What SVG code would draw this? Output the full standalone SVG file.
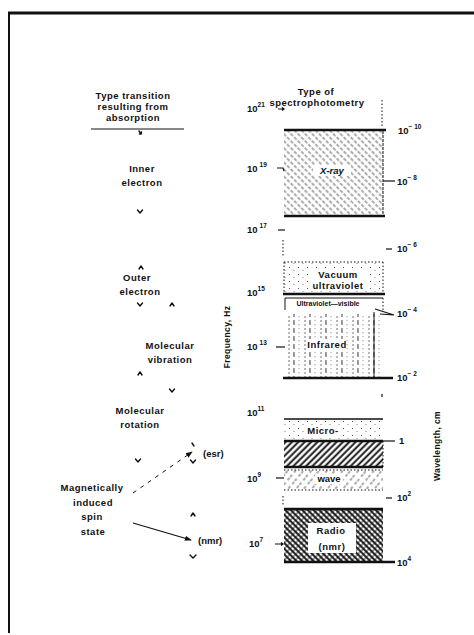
<svg xmlns="http://www.w3.org/2000/svg" width="474" height="635" viewBox="0 0 474 635">
<style>
text{font-family:"Liberation Sans",Arial,sans-serif;font-weight:700;fill:#111;}
.lbl{font-size:9.5px;letter-spacing:0.5px;text-anchor:middle;}
.num{font-size:9.5px;}
.sup{font-size:6.5px;}
.ax{font-size:8.5px;letter-spacing:0.4px;text-anchor:middle;}
.thick{stroke:#111;stroke-width:2.6;fill:none;}
.thin{stroke:#111;stroke-width:1;fill:none;}
.dot{stroke:#111;stroke-width:1;fill:none;stroke-dasharray:1.5 2;}
.tick{stroke:#111;stroke-width:1.2;fill:none;}
.ah{stroke:#111;stroke-width:1.4;fill:none;stroke-linecap:round;stroke-linejoin:round;}
</style>
<defs>
<pattern id="xray" width="5" height="10" patternUnits="userSpaceOnUse" patternTransform="rotate(-45)">
<line x1="1" y1="0" x2="1" y2="10" stroke="#222" stroke-width="0.75" stroke-dasharray="3.5 1.5"/>
</pattern>
<pattern id="stip" width="9" height="7" patternUnits="userSpaceOnUse">
<circle cx="1.5" cy="1.5" r="0.55" fill="#333"/>
<circle cx="6" cy="4.5" r="0.5" fill="#555"/>
</pattern>
<pattern id="ir" width="16" height="8" patternUnits="userSpaceOnUse">
<line x1="1" y1="0" x2="1" y2="8" stroke="#333" stroke-width="0.7" stroke-dasharray="2 2"/>
<line x1="6" y1="0" x2="6" y2="8" stroke="#222" stroke-width="0.9" stroke-dasharray="5 3"/>
<line x1="11" y1="0" x2="11" y2="8" stroke="#555" stroke-width="0.6" stroke-dasharray="1.2 2.8"/>
</pattern>
<pattern id="dense" width="4.5" height="10" patternUnits="userSpaceOnUse" patternTransform="rotate(45)">
<line x1="1.5" y1="0" x2="1.5" y2="10" stroke="#111" stroke-width="1.9"/>
</pattern>
<pattern id="wave" width="6" height="10" patternUnits="userSpaceOnUse" patternTransform="rotate(40)">
<line x1="1" y1="0" x2="1" y2="10" stroke="#333" stroke-width="0.8" stroke-dasharray="3 3"/>
</pattern>
<pattern id="rad1" width="4" height="10" patternUnits="userSpaceOnUse" patternTransform="rotate(-45)">
<line x1="1" y1="0" x2="1" y2="10" stroke="#111" stroke-width="1.8"/>
</pattern>
<pattern id="rad2" width="4" height="10" patternUnits="userSpaceOnUse" patternTransform="rotate(45)">
<line x1="1" y1="0" x2="1" y2="10" stroke="#111" stroke-width="0.9"/>
</pattern>
<marker id="arr" viewBox="0 0 8 8" refX="7" refY="4" markerWidth="7" markerHeight="7" orient="auto" markerUnits="userSpaceOnUse">
<path d="M0,1 L8,4 L0,7 Z" fill="#111"/>
</marker>
</defs>
<rect width="474" height="635" fill="#fff"/>
<g id="frame">
<line x1="8" y1="13" x2="474" y2="13" stroke="#111" stroke-width="3"/>
<line x1="9" y1="12" x2="9" y2="633" stroke="#111" stroke-width="2"/>
</g>

<g id="left-header">
<text class="lbl" x="133" y="99">Type transition</text>
<text class="lbl" x="133" y="110">resulting from</text>
<text class="lbl" x="133" y="121">absorption</text>
<line x1="91" y1="129" x2="184" y2="129" class="thin" stroke-width="1.2"/>
</g>
<g id="inner-electron">
<text class="lbl" x="142" y="172">Inner</text>
<text class="lbl" x="142" y="186">electron</text>
</g>
<g id="outer-electron">
<text class="lbl" x="137" y="281">Outer</text>
<text class="lbl" x="140" y="295">electron</text>
</g>
<g id="molecular-vibration">
<text class="lbl" x="170" y="349">Molecular</text>
<text class="lbl" x="170" y="363">vibration</text>
</g>
<g id="molecular-rotation">
<text class="lbl" x="140" y="414">Molecular</text>
<text class="lbl" x="140" y="428">rotation</text>
</g>
<g id="magnetic-spin">
<text class="lbl" x="92" y="491">Magnetically</text>
<text class="lbl" x="93" y="506">induced</text>
<text class="lbl" x="92" y="520">spin</text>
<text class="lbl" x="93" y="535">state</text>
</g>
<g id="esr-label"><text class="num" x="203" y="457">(esr)</text></g>
<g id="nmr-label"><text class="num" x="198" y="544">(nmr)</text></g>

<g id="connectors">
<path class="ah" d="M139,131 L141,134 M139.5,134 L141,134 L141.5,132"/>
<path class="ah" d="M137.5,210 L140,213 L142.5,210"/>
<path class="ah" d="M139,269 L141,266 L143,269"/>
<path class="ah" d="M137.5,303 L140,306 L142.5,303"/>
<path class="ah" d="M170,306 L172,303 L174,306"/>
<path class="ah" d="M138,375 L140,372 L142,375"/>
<path class="ah" d="M169.5,389 L172,392 L174.5,389"/>
<path class="ah" d="M135.5,459 L138,462 L140.5,459"/>
<path class="ah" d="M192,443 L194,446"/>
<line x1="133" y1="493" x2="192" y2="452" stroke="#111" stroke-width="1" stroke-dasharray="4 5" marker-end="url(#arr)"/>
<path class="ah" d="M190.5,460 L193,463 L195.5,460"/>
<path class="ah" d="M191,516 L193,513 L195,516"/>
<line x1="133" y1="523" x2="191" y2="540" stroke="#111" stroke-width="1.3" marker-end="url(#arr)"/>
<path class="ah" d="M190,555 L193,558 L196,555"/>
</g>

<g id="right-header">
<text class="lbl" x="316" y="95">Type of</text>
<text class="lbl" x="317" y="106">spectrophotometry</text>
</g>

<g id="frequency-axis">
<text class="ax" transform="translate(230,337) rotate(-90)">Frequency, Hz</text>
<text x="247" y="112"><tspan class="num">10</tspan><tspan class="sup" dy="-5">21</tspan></text>
<path class="tick" d="M278,109 L284,109 M282,107.5 L284,109 L282,110.5"/>
<text x="247" y="172"><tspan class="num">10</tspan><tspan class="sup" dy="-5" dx="2">19</tspan></text>
<path class="tick" d="M277,168 L283,168 L284,171"/>
<text x="247" y="233"><tspan class="num">10</tspan><tspan class="sup" dy="-5" dx="2">17</tspan></text>
<line class="tick" x1="278" y1="230" x2="285" y2="230"/>
<line class="dot" x1="283" y1="240" x2="283" y2="257"/>
<text x="247" y="296"><tspan class="num">10</tspan><tspan class="sup" dy="-5">15</tspan></text>
<text x="247" y="350"><tspan class="num">10</tspan><tspan class="sup" dy="-5" dx="2">13</tspan></text>
<line class="tick" x1="276" y1="347" x2="285" y2="347"/>
<text x="247" y="416"><tspan class="num">10</tspan><tspan class="sup" dy="-5">11</tspan></text>
<text x="247" y="482"><tspan class="num">10</tspan><tspan class="sup" dy="-5">9</tspan></text>
<line class="tick" x1="276" y1="478" x2="284" y2="478"/>
<line class="dot" x1="283" y1="496" x2="283" y2="505"/>
<text x="249" y="547"><tspan class="num">10</tspan><tspan class="sup" dy="-5">7</tspan></text>
<path class="tick" d="M275,544 L283,544 M281,542.5 L283,544 L281,545.5"/>
</g>

<g id="wavelength-axis">
<text class="ax" transform="translate(440,446) rotate(-90)">Wavelength, cm</text>
<text x="398" y="134"><tspan class="num">10</tspan><tspan class="sup" dy="-5">− 10</tspan></text>
<line class="tick" x1="383" y1="181" x2="395" y2="181"/>
<text x="397" y="185"><tspan class="num">10</tspan><tspan class="sup" dy="-5">− 8</tspan></text>
<line class="tick" x1="386" y1="249" x2="392" y2="249"/>
<text x="397" y="252"><tspan class="num">10</tspan><tspan class="sup" dy="-5">− 6</tspan></text>
<path class="tick" d="M375,309 L394,315 L380,314"/>
<text x="397" y="317"><tspan class="num">10</tspan><tspan class="sup" dy="-5">− 4</tspan></text>
<text x="397" y="381"><tspan class="num">10</tspan><tspan class="sup" dy="-5">− 2</tspan></text>
<line class="tick" x1="382" y1="394" x2="382" y2="397"/>
<line class="tick" x1="380" y1="441" x2="395" y2="441"/>
<text class="num" x="399" y="444">1</text>
<line class="tick" x1="386" y1="498" x2="392" y2="498"/>
<text x="397" y="501"><tspan class="num">10</tspan><tspan class="sup" dy="-5">2</tspan></text>
<text x="397" y="566"><tspan class="num">10</tspan><tspan class="sup" dy="-5">4</tspan></text>
</g>

<g id="xray">
<line class="dot" x1="382" y1="100" x2="382" y2="128"/>
<rect x="284" y="131" width="99" height="85" fill="url(#xray)"/>
<line x1="383" y1="131" x2="383" y2="216" class="thin" stroke-dasharray="3 1"/>
<line class="thick" x1="284" y1="130" x2="386" y2="130"/>
<line class="thick" x1="284" y1="216" x2="385" y2="216"/>
<rect x="313" y="165" width="38" height="11" fill="#fff"/>
<text class="num" x="332" y="174" text-anchor="middle" font-style="italic" font-size="8.5">X-ray</text>
</g>

<g id="vacuum-uv">
<rect x="284" y="262" width="99" height="31" fill="url(#stip)"/>
<line class="dot" x1="284" y1="262" x2="383" y2="262"/>
<line class="dot" x1="284" y1="262" x2="284" y2="293"/>
<line class="dot" x1="383" y1="262" x2="383" y2="293"/>
<rect x="309" y="268" width="60" height="22" fill="#fff"/>
<text class="lbl" x="338" y="278">Vacuum</text>
<text class="lbl" x="338" y="289" font-size="8.5">ultraviolet</text>
<line class="thick" x1="283" y1="294" x2="385" y2="294"/>
</g>

<g id="uv-visible">
<path class="thin" d="M285,310 L285,298 L383,298"/>
<line class="dot" x1="383" y1="298" x2="383" y2="310"/>
<text x="328" y="306" text-anchor="middle" font-size="7">Ultraviolet—visible</text>
</g>

<g id="infrared">
<rect x="284" y="314" width="99" height="64" fill="url(#ir)"/>
<line class="thin" x1="374" y1="312" x2="374" y2="378"/>
<rect x="308" y="339" width="38" height="12" fill="#fff"/>
<text class="lbl" x="327" y="348">Infrared</text>
<line class="thick" x1="283" y1="378" x2="393" y2="378"/>
</g>

<g id="microwave">
<line x1="284" y1="419" x2="383" y2="419" stroke="#111" stroke-width="1.6"/>
<rect x="284" y="420" width="99" height="20" fill="url(#stip)"/>
<rect x="306" y="425" width="34" height="11" fill="#fff"/>
<text class="lbl" x="323" y="434">Micro-</text>
<rect x="284" y="441" width="99" height="26" fill="url(#dense)"/>
<line class="thick" x1="284" y1="441" x2="383" y2="441"/>
<line class="thick" x1="284" y1="467" x2="383" y2="467"/>
<line class="dot" x1="383" y1="441" x2="383" y2="467"/>
<rect x="284" y="470" width="99" height="19" fill="url(#wave)"/>
<line class="dot" x1="284" y1="470" x2="383" y2="470"/>
<line class="dot" x1="284" y1="490" x2="383" y2="490"/>
<rect x="315" y="474" width="28" height="10" fill="#fff"/>
<text class="num" x="329" y="482" text-anchor="middle" font-size="8">wave</text>
</g>

<g id="radio">
<rect x="284" y="509" width="99" height="53" fill="url(#rad1)"/>
<rect x="284" y="509" width="99" height="53" fill="url(#rad2)"/>
<line class="thick" x1="284" y1="509" x2="383" y2="509"/>
<rect x="308" y="523" width="48" height="30" fill="#fff"/>
<text class="lbl" x="331" y="534">Radio</text>
<text class="lbl" x="332" y="550">(nmr)</text>
<line class="thick" x1="284" y1="562" x2="395" y2="562"/>
</g>
</svg>
